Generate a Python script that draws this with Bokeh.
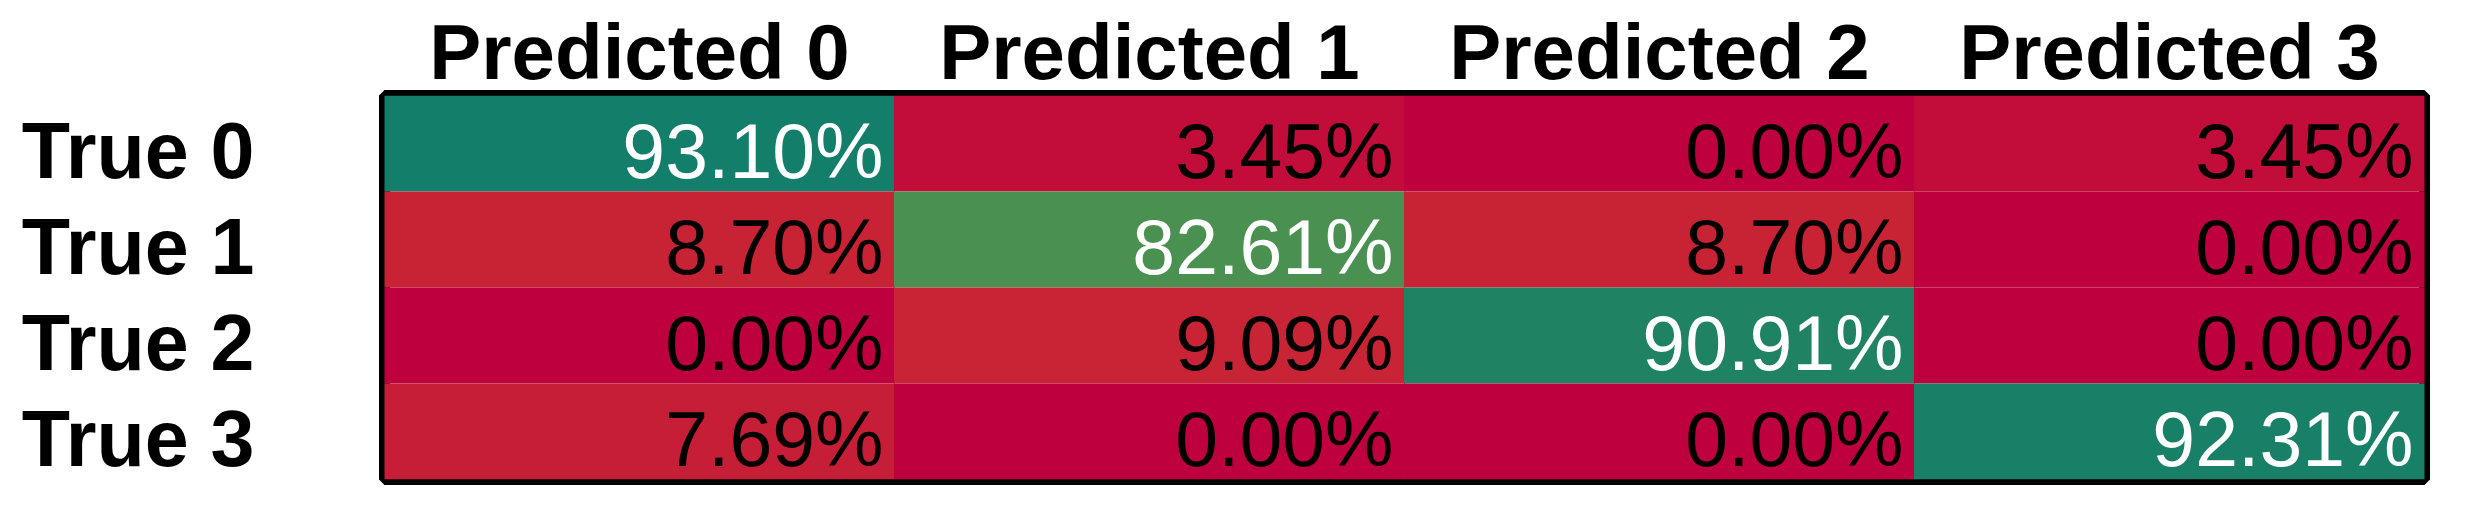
from bokeh.plotting import figure
from bokeh.models import (ColumnDataSource, FactorRange, LinearColorMapper, Range1d,
                          LinearAxis, FixedTicker)
from bokeh.transform import transform, dodge
from bokeh.embed import file_html
from bokeh.resources import INLINE
from bokeh.core.properties import value

# ---- data ----
predicted_labels = ["Predicted 0", "Predicted 1", "Predicted 2", "Predicted 3"]
true_labels = ["True 0", "True 1", "True 2", "True 3"]
row_true0 = [93.10, 3.45, 0.00, 3.45]
row_true1 = [8.70, 82.61, 8.70, 0.00]
row_true2 = [0.00, 9.09, 90.91, 0.00]
row_true3 = [7.69, 0.00, 0.00, 92.31]
rows = [row_true0, row_true1, row_true2, row_true3]

# ---- colour scale (red -> yellow -> green) ----
stops = [(0.0, (191, 0, 63)), (0.5, (243, 201, 6)), (0.97, (0, 120, 113)), (1.0, (0, 118, 115))]
palette = []
N = 256
for i in range(N):
    t = i / (N - 1)
    for (t0, c0), (t1, c1) in zip(stops[:-1], stops[1:]):
        if t0 <= t <= t1:
            f = (t - t0) / (t1 - t0) if t1 > t0 else 0
            c = [int(round(a + (b - a) * f)) for a, b in zip(c0, c1)]
            palette.append("#%02x%02x%02x" % tuple(c))
            break
mapper = LinearColorMapper(palette=palette, low=0, high=100)

n = len(true_labels)
row_pos = [n - i - 0.5 for i in range(n)]   # True 0 at the top

xs, ys, vals, labels, tcols = [], [], [], [], []
for yp, row in zip(row_pos, rows):
    for pl, v in zip(predicted_labels, row):
        xs.append(pl)
        ys.append(yp)
        vals.append(v)
        labels.append(f"{v:.2f}%")
        tcols.append("white" if v > 50 else "black")
src = ColumnDataSource(dict(x=xs, y=ys, v=vals, label=labels, tc=tcols))

FONT = "Liberation Sans"

p = figure(
    x_range=FactorRange(*predicted_labels),
    y_range=Range1d(0, n),
    width=2452, height=510,
    output_backend="svg", toolbar_location=None,
    x_axis_location="above", y_axis_location=None,
    min_border_left=384, min_border_right=28,
    min_border_top=95, min_border_bottom=31,
)

p.rect(x="x", y="y", width=1.002, height=1.002, source=src,
       fill_color=transform("v", mapper), line_color=None)

p.text(x=dodge("x", 0.5, range=p.x_range), y="y", text="label", source=src,
       text_align="right", text_baseline="middle", x_offset=-11, y_offset=7,
       text_font=value(FONT), text_font_size="77px", text_color="tc")

# row-label axis (range nudged slightly so the bold labels sit like the reference)
shift = 0.075
p.extra_y_ranges = {"rows": Range1d(start=shift, end=n + shift)}
yax = LinearAxis(y_range_name="rows", ticker=FixedTicker(ticks=row_pos),
                 major_label_overrides={tp: lab for tp, lab in zip(row_pos, true_labels)})
p.add_layout(yax, "left")

xax = p.xaxis[0]
for ax in (xax, yax):
    ax.axis_line_color = None
    ax.major_tick_line_color = None
    ax.minor_tick_line_color = None
    ax.major_label_text_font = FONT
    ax.major_label_text_font_style = "bold"
    ax.major_label_text_color = "black"

xax.major_label_text_font_size = "78px"
yax.major_label_text_font_size = "79px"
xax.major_label_standoff = -6
yax.major_label_standoff = 124

p.grid.visible = False
p.outline_line_color = "black"
p.outline_line_width = 11
p.background_fill_color = "white"
p.border_fill_color = "white"

open("out.html", "w").write(file_html(p, INLINE))
